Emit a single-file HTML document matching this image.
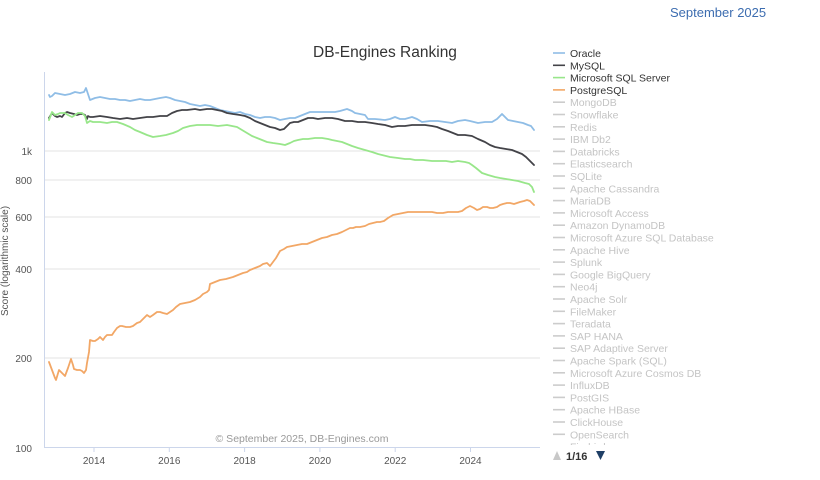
<!DOCTYPE html>
<html>
<head>
<meta charset="utf-8">
<style>
html,body{margin:0;padding:0;background:#fff;}
svg{display:block;font-family:"Liberation Sans",Arial,sans-serif;}
</style>
</head>
<body>
<svg width="820" height="480" viewBox="0 0 820 480" xmlns="http://www.w3.org/2000/svg">
<defs>
<clipPath id="legclip"><rect x="540" y="40" width="280" height="405"/></clipPath>
</defs>
<rect width="820" height="480" fill="#fff"/>

<!-- top right date -->
<text x="670" y="17" font-size="13" fill="#3d6db0">September 2025</text>

<!-- title -->
<text x="385" y="57" font-size="15.5" fill="#333" text-anchor="middle">DB-Engines Ranking</text>

<!-- gridlines -->
<g stroke="#e3e3e3" stroke-width="1">
<line x1="44" y1="151" x2="540" y2="151"/>
<line x1="44" y1="180" x2="540" y2="180"/>
<line x1="44" y1="217" x2="540" y2="217"/>
<line x1="44" y1="269" x2="540" y2="269"/>
<line x1="44" y1="358" x2="540" y2="358"/>
</g>
<!-- axes -->
<line x1="44.5" y1="72" x2="44.5" y2="448" stroke="#ccd6eb" stroke-width="1"/>
<line x1="44" y1="447.5" x2="540" y2="447.5" stroke="#ccd6eb" stroke-width="1"/>
<g stroke="#ccd6eb" stroke-width="1">
<line x1="94" y1="447" x2="94" y2="452"/>
<line x1="169.3" y1="447" x2="169.3" y2="452"/>
<line x1="244.6" y1="447" x2="244.6" y2="452"/>
<line x1="319.9" y1="447" x2="319.9" y2="452"/>
<line x1="395.2" y1="447" x2="395.2" y2="452"/>
<line x1="470.5" y1="447" x2="470.5" y2="452"/>
</g>

<!-- y labels -->
<g font-size="10" fill="#555" text-anchor="end">
<text x="32" y="155">1k</text>
<text x="32" y="184">800</text>
<text x="32" y="221">600</text>
<text x="32" y="273">400</text>
<text x="32" y="362">200</text>
<text x="32" y="452">100</text>
</g>
<!-- x labels -->
<g font-size="10" fill="#555" text-anchor="middle">
<text x="94" y="464">2014</text>
<text x="169.3" y="464">2016</text>
<text x="244.6" y="464">2018</text>
<text x="319.9" y="464">2020</text>
<text x="395.2" y="464">2022</text>
<text x="470.5" y="464">2024</text>
</g>
<!-- y axis title -->
<text transform="translate(8,261) rotate(-90)" font-size="10" fill="#555" text-anchor="middle">Score (logarithmic scale)</text>

<!-- copyright -->
<text x="302" y="442" font-size="10.5" fill="#999" text-anchor="middle">© September 2025, DB-Engines.com</text>

<!-- series -->
<g fill="none" stroke-width="1.8" stroke-linejoin="round" stroke-linecap="round">
<polyline stroke="#8fbde6" points="49,95 50,97 52,96 55,93 60,94 65,95 70,94 75,92 80,93 84,92 86,88 88,94 90,100 95,98 100,97 105,98 110,99 115,99 120,100 125,100 130,101 135,100 140,99 145,100 150,100 155,99 160,98 166,97 170,98 175,100 180,101 185,102 190,104 195,105 200,106 205,105 210,106 215,108 220,110 225,111 230,112 235,113 240,112 245,114 250,115 255,117 260,118 265,117 270,117 275,118 280,120 285,119 290,118 295,118 300,116 305,114 310,112 320,112 330,112 335,112 340,111 347,109 352,111 355,113 360,114 365,115 368,119 375,119 385,120 390,119 395,117 400,119 405,119 412,117 417,119 422,122 430,121 438,121 445,122 452,123 458,121 465,120 470,121 478,123 485,122 492,122 497,119 502,114 505,117 508,120 513,121 518,122 523,123 528,125 531,126 534,130"/>
<polyline stroke="#434348" points="49,118 52,113 55,116 57,117 60,116 62,117 65,113 67,112 70,113 74,114 77,115 80,114 83,114 85,115 87,119 88,116 90,117 93,117 100,116 107,117 113,118 120,119 127,118 133,119 140,118 147,117 153,117 160,116 167,116 172,113 177,111 182,110 187,110 195,109 200,110 207,109 212,109 217,110 222,111 227,113 233,114 240,115 245,116 250,118 255,121 260,123 265,125 270,127 275,128 280,130 284,129 287,126 290,123 294,122 298,122 303,120 308,118 313,118 318,119 325,118 332,118 338,119 345,121 352,121 358,122 365,122 372,123 378,124 385,125 392,127 398,126 405,126 412,125 418,125 425,125 432,126 437,127 442,129 448,131 453,133 458,135 465,135 472,136 478,139 485,142 490,145 495,147 500,148 506,149 512,150 517,152 522,154 526,157 530,161 534,165"/>
<polyline stroke="#98e68a" points="49,120 52,112 55,115 58,114 60,113 65,113 68,115 72,117 75,115 78,113 82,113 85,116 87,123 90,121 93,122 100,122 107,123 112,122 117,122 123,124 130,127 135,130 140,132 147,135 153,137 160,136 166,135 173,133 178,131 183,128 190,126 197,125 203,125 210,125 218,126 227,125 232,126 237,127 242,130 247,133 252,136 257,138 262,140 267,142 273,143 280,144 285,145 290,143 294,141 298,140 303,139 308,139 315,138 322,138 328,139 332,140 337,141 342,142 347,144 352,146 358,148 365,150 372,152 378,154 382,155 390,157 398,158 405,159 410,159 415,160 423,160 432,161 440,161 446,161 452,162 458,161 465,162 469,163 472,165 476,168 482,173 488,175 495,177 500,178 506,179 512,180 518,181 525,183 529,184 532,187 534,192"/>
<polyline stroke="#f2a766" points="49,362 52,370 55,378 56,380 59,370 62,373 65,376 68,368 71,359 73,365 74,369 77,370 80,370 82,371 84,373 86,370 87,363 89,352 90,340 93,341 95,341 98,339 100,337 103,340 105,337 107,335 110,335 112,335 114,332 117,328 120,326 122,326 126,327 130,327 133,326 137,323 140,322 144,318 147,315 150,317 153,315 157,312 160,312 163,313 167,314 170,312 173,310 176,307 180,304 185,303 190,302 195,300 200,297 203,294 207,292 209,290 210,284 215,282 220,280 226,279 233,277 238,275 243,273 247,272 250,270 255,268 260,266 263,264 267,263 270,266 273,262 276,258 280,251 284,249 287,247 292,246 297,245 302,244 307,244 312,242 317,240 322,238 327,237 332,235 337,234 342,232 346,230 350,228 353,228 356,227 360,227 365,226 369,224 373,223 377,222 380,222 384,221 388,218 393,215 398,214 403,213 408,212 413,212 418,212 423,212 427,212 432,212 437,213 443,213 448,212 453,212 458,212 462,211 466,208 470,206 474,208 477,210 480,209 483,207 487,207 490,208 493,208 497,207 500,205 503,204 507,203 510,203 514,204 517,203 520,202 524,201 527,200 530,201 532,203 534,205"/>
</g>

<!-- legend -->
<g clip-path="url(#legclip)" font-size="10.5">
<g stroke-width="1.6">
<line x1="553" y1="53" x2="565" y2="53" stroke="#8fbde6"/>
<line x1="553" y1="65.3" x2="565" y2="65.3" stroke="#434348"/>
<line x1="553" y1="77.6" x2="565" y2="77.6" stroke="#98e68a"/>
<line x1="553" y1="89.9" x2="565" y2="89.9" stroke="#f2a766"/>
</g>
<g fill="#333">
<text x="570" y="57">Oracle</text>
<text x="570" y="69.3">MySQL</text>
<text x="570" y="81.6">Microsoft SQL Server</text>
<text x="570" y="93.9">PostgreSQL</text>
</g>
<g stroke="#cccccc" stroke-width="1.6">
<line x1="553" y1="102.2" x2="565" y2="102.2"/>
<line x1="553" y1="114.5" x2="565" y2="114.5"/>
<line x1="553" y1="126.8" x2="565" y2="126.8"/>
<line x1="553" y1="139.1" x2="565" y2="139.1"/>
<line x1="553" y1="151.4" x2="565" y2="151.4"/>
<line x1="553" y1="163.7" x2="565" y2="163.7"/>
<line x1="553" y1="176" x2="565" y2="176"/>
<line x1="553" y1="188.3" x2="565" y2="188.3"/>
<line x1="553" y1="200.6" x2="565" y2="200.6"/>
<line x1="553" y1="212.9" x2="565" y2="212.9"/>
<line x1="553" y1="225.2" x2="565" y2="225.2"/>
<line x1="553" y1="237.5" x2="565" y2="237.5"/>
<line x1="553" y1="249.8" x2="565" y2="249.8"/>
<line x1="553" y1="262.1" x2="565" y2="262.1"/>
<line x1="553" y1="274.4" x2="565" y2="274.4"/>
<line x1="553" y1="286.7" x2="565" y2="286.7"/>
<line x1="553" y1="299" x2="565" y2="299"/>
<line x1="553" y1="311.3" x2="565" y2="311.3"/>
<line x1="553" y1="323.6" x2="565" y2="323.6"/>
<line x1="553" y1="335.9" x2="565" y2="335.9"/>
<line x1="553" y1="348.2" x2="565" y2="348.2"/>
<line x1="553" y1="360.5" x2="565" y2="360.5"/>
<line x1="553" y1="372.8" x2="565" y2="372.8"/>
<line x1="553" y1="385.1" x2="565" y2="385.1"/>
<line x1="553" y1="397.4" x2="565" y2="397.4"/>
<line x1="553" y1="409.7" x2="565" y2="409.7"/>
<line x1="553" y1="422" x2="565" y2="422"/>
<line x1="553" y1="434.3" x2="565" y2="434.3"/>
<line x1="553" y1="446.6" x2="565" y2="446.6"/>
</g>
<g fill="#c4c4c4">
<text x="570" y="106.2">MongoDB</text>
<text x="570" y="118.5">Snowflake</text>
<text x="570" y="130.8">Redis</text>
<text x="570" y="143.1">IBM Db2</text>
<text x="570" y="155.4">Databricks</text>
<text x="570" y="167.7">Elasticsearch</text>
<text x="570" y="180">SQLite</text>
<text x="570" y="192.3">Apache Cassandra</text>
<text x="570" y="204.6">MariaDB</text>
<text x="570" y="216.9">Microsoft Access</text>
<text x="570" y="229.2">Amazon DynamoDB</text>
<text x="570" y="241.5">Microsoft Azure SQL Database</text>
<text x="570" y="253.8">Apache Hive</text>
<text x="570" y="266.1">Splunk</text>
<text x="570" y="278.4">Google BigQuery</text>
<text x="570" y="290.7">Neo4j</text>
<text x="570" y="303">Apache Solr</text>
<text x="570" y="315.3">FileMaker</text>
<text x="570" y="327.6">Teradata</text>
<text x="570" y="339.9">SAP HANA</text>
<text x="570" y="352.2">SAP Adaptive Server</text>
<text x="570" y="364.5">Apache Spark (SQL)</text>
<text x="570" y="376.8">Microsoft Azure Cosmos DB</text>
<text x="570" y="389.1">InfluxDB</text>
<text x="570" y="401.4">PostGIS</text>
<text x="570" y="413.7">Apache HBase</text>
<text x="570" y="426">ClickHouse</text>
<text x="570" y="438.3">OpenSearch</text>
<text x="570" y="450.6">Firebird</text>
</g>
</g>

<!-- pager -->
<polygon points="553,460 561,460 557,451" fill="#c8c8c8"/>
<text x="566" y="460" font-size="11" font-weight="bold" fill="#333">1/16</text>
<polygon points="596,451 605,451 600.5,460" fill="#1f3f66"/>
</svg>
</body>
</html>
